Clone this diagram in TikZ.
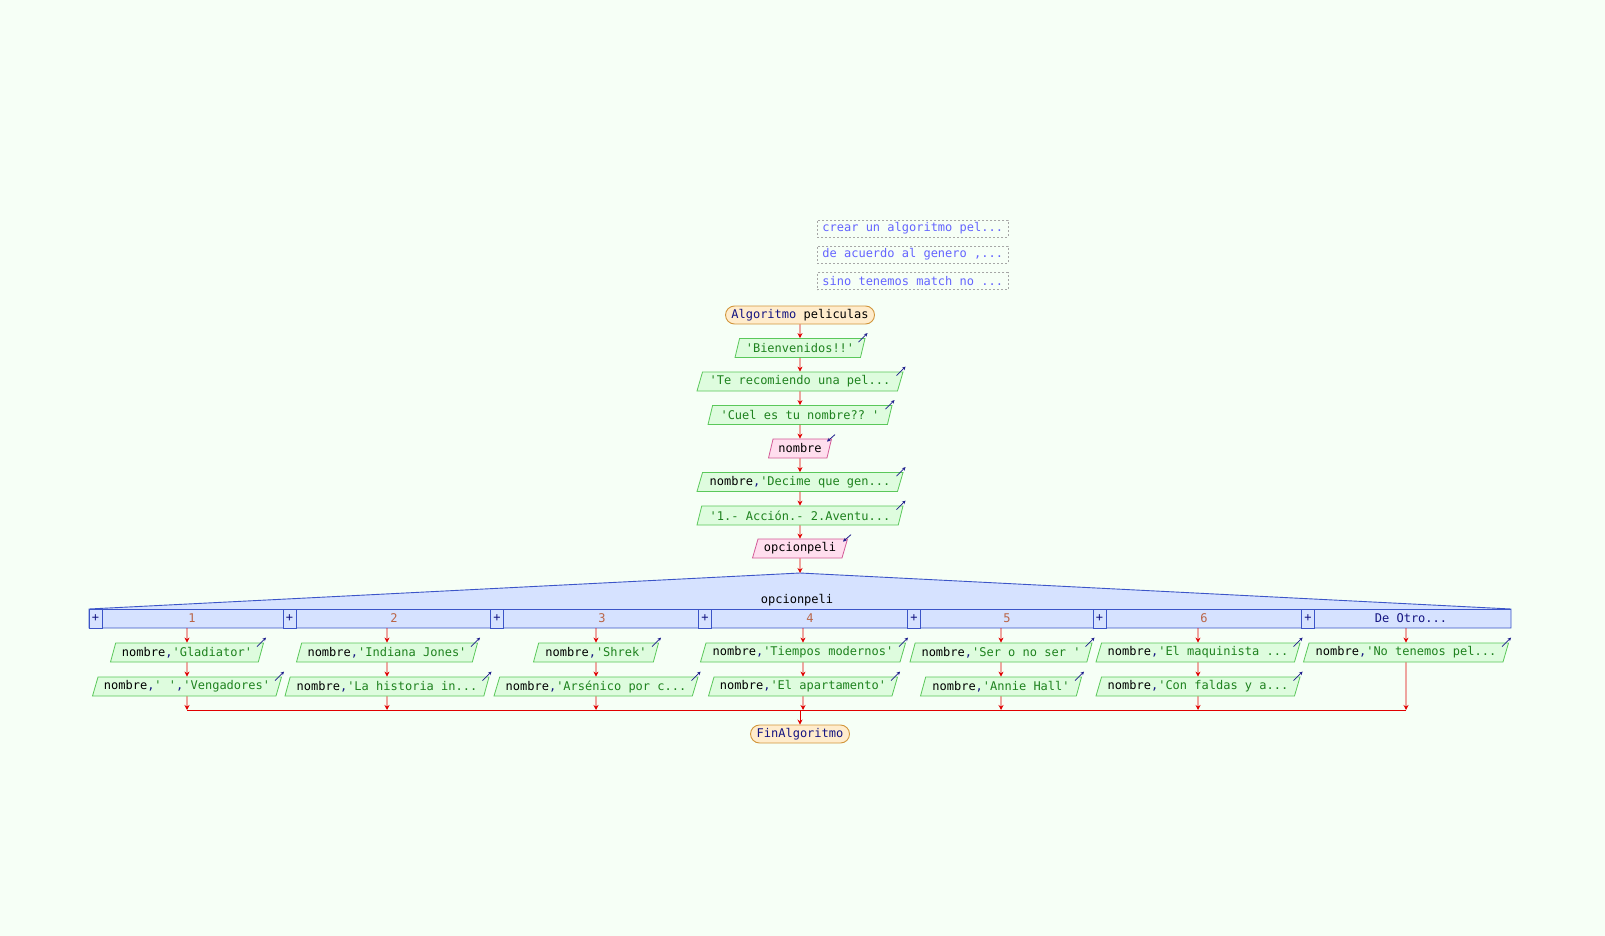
\documentclass[tikz,border=0pt]{standalone}
\usepackage{fontspec}
\setmonofont{DejaVu Sans Mono}
\usetikzlibrary{shapes.geometric,arrows.meta}
\definecolor{bgc}{RGB}{246,255,246}
\definecolor{outfill}{RGB}{222,252,222}
\definecolor{outline}{RGB}{90,200,90}
\definecolor{infill}{RGB}{255,222,238}
\definecolor{inline}{RGB}{210,90,150}
\definecolor{termfill}{RGB}{255,236,204}
\definecolor{termline}{RGB}{210,150,60}
\definecolor{swfill}{RGB}{214,226,255}
\definecolor{swline}{RGB}{60,85,200}
\definecolor{flowred}{RGB}{225,0,0}
\definecolor{kwblue}{RGB}{20,20,130}
\definecolor{strgreen}{RGB}{30,130,30}
\definecolor{cmblue}{RGB}{100,100,255}
\definecolor{casebrown}{RGB}{185,100,70}
\definecolor{iconblue}{RGB}{30,30,140}
\newcommand\Str[1]{\textcolor{strgreen}{#1}}
\newcommand\Cm{\textcolor{kwblue}{,}}
\newcommand\Kw[1]{\textcolor{kwblue}{#1}}
\newcommand\Lft[1]{\makebox[181pt][l]{#1}}
\begin{document}
\begin{tikzpicture}[x=1pt,y=-1pt,
  font=\ttfamily\fontsize{12}{14}\selectfont,
  outbox/.style={trapezium, trapezium left angle=68, trapezium right angle=112,
    trapezium stretches body, draw=outline, fill=outfill, line width=0.8pt,
    minimum height=19pt, inner xsep=2pt, inner ysep=1pt},
  inbox/.style={outbox, draw=inline, fill=infill},
  term/.style={rectangle, rounded corners=9pt, draw=termline, fill=termfill,
    line width=0.9pt, minimum height=18pt, inner sep=1pt},
  cmt/.style={rectangle, draw=gray!70, dash pattern=on 2pt off 2pt, line width=0.8pt,
    text=cmblue, minimum height=17pt, inner xsep=5pt, inner ysep=1pt,
    font=\ttfamily\fontsize{12}{14}\selectfont, anchor=west},
  plusbox/.style={rectangle, draw=swline, fill=swfill, line width=0.9pt,
    minimum width=13pt, minimum height=19pt, inner sep=0pt, text=kwblue},
  caselbl/.style={text=casebrown, inner sep=1pt},
  flow/.style={draw=flowred, line width=0.8pt, -{Stealth[length=5pt,width=5pt]}},
  line/.style={draw=flowred, line width=0.8pt},
  icon/.style={draw=iconblue, line width=0.8pt, -{Stealth[length=3.5pt,width=3.5pt]}}
]
\fill[bgc] (0,0) rectangle (1605,936);
\useasboundingbox (0,0) rectangle (1605,936);

% comments
\node[cmt] (c1) at (817,228.5) {\Lft{crear un algoritmo pel...}};
\node[cmt] (c2) at (817,254.5) {\Lft{de acuerdo al genero ,...}};
\node[cmt] (c3) at (817,281) {\Lft{sino tenemos match no ...}};

% main chain
\node[term, minimum width=149pt] (start) at (800,315) {\Kw{Algoritmo} peliculas};
\node[outbox, minimum width=130pt] (b1) at (800,348) {\Str{'Bienvenidos!!'}};
\node[outbox, minimum width=206pt] (b2) at (800,381.5) {\Str{'Te recomiendo una pel...}};
\node[outbox, minimum width=184pt] (b3) at (800,415) {\Str{'Cuel es tu nombre?? '}};
\node[inbox, minimum width=63pt] (i1) at (800,448.5) {nombre};
\node[outbox, minimum width=206pt] (b4) at (800,482) {nombre\Cm\Str{'Decime que gen...}};
\node[outbox, minimum width=206pt] (b5) at (800,515.5) {\Str{'1.- Acción.- 2.Aventu...}};
\node[inbox, minimum width=95pt] (i2) at (800,548.5) {opcionpeli};

\foreach \n in {b1,b2,b3,b4,b5}{
  \draw[icon] ([shift={(-7,4)}]\n.top right corner) -- ([shift={(2,-5)}]\n.top right corner);
}
\foreach \n in {i1,i2}{
  \draw[icon] ([shift={(3,-4)}]\n.top right corner) -- ([shift={(-5,3)}]\n.top right corner);
}

\draw[flow] (start.south) -- (b1.north);
\draw[flow] (b1.south) -- (b2.north);
\draw[flow] (b2.south) -- (b3.north);
\draw[flow] (b3.south) -- (i1.north);
\draw[flow] (i1.south) -- (b4.north);
\draw[flow] (b4.south) -- (b5.north);
\draw[flow] (b5.south) -- (i2.north);

% switch
\coordinate (apex) at (800,573);
\draw[fill=swfill, draw=swline, line width=0.9pt]
  (89,609) -- (apex) -- (1511,609) -- (1511,628) -- (89,628) -- cycle;
\draw[draw=swline, line width=0.9pt] (89,609) -- (1511,609);
\node[inner sep=1pt] (swlbl) at (797,600) {opcionpeli};
\draw[flow] (i2.south) -- (apex);

\node[plusbox] (p1) at (95.5,618.5) {+};
\node[plusbox] (p2) at (289.5,618.5) {+};
\node[plusbox] (p3) at (497,618.5) {+};
\node[plusbox] (p4) at (705,618.5) {+};
\node[plusbox] (p5) at (914,618.5) {+};
\node[plusbox] (p6) at (1099.5,618.5) {+};
\node[plusbox] (p7) at (1308,618.5) {+};

\node[caselbl] (k1) at (192,618.5) {1};
\node[caselbl] (k2) at (394,618.5) {2};
\node[caselbl] (k3) at (602,618.5) {3};
\node[caselbl] (k4) at (810,618.5) {4};
\node[caselbl] (k5) at (1007,618.5) {5};
\node[caselbl] (k6) at (1204,618.5) {6};
\node[caselbl, text=kwblue] (k7) at (1411,618.5) {De Otro...};

\foreach \i/\x in {1/187,2/387,3/596,4/803,5/1001,6/1198,7/1406}{
  \coordinate (t\i) at (\x,628);
  \coordinate (m\i) at (\x,710);
}

% row 1
\node[outbox, minimum width=153pt] (r1) at (187,652.5) {nombre\Cm\Str{'Gladiator'}};
\node[outbox, minimum width=181pt] (r2) at (387,652.5) {nombre\Cm\Str{'Indiana Jones'}};
\node[outbox, minimum width=125pt] (r3) at (596,652.5) {nombre\Cm\Str{'Shrek'}};
\node[outbox, minimum width=205pt] (r4) at (803,652.5) {nombre\Cm\Str{'Tiempos modernos'}};
\node[outbox, minimum width=182pt] (r5) at (1001,652.5) {nombre\Cm\Str{'Ser o no ser '}};
\node[outbox, minimum width=204pt] (r6) at (1198,652.5) {nombre\Cm\Str{'El maquinista ...}};
\node[outbox, minimum width=205pt] (r7) at (1406,652.5) {nombre\Cm\Str{'No tenemos pel...}};
% row 2
\node[outbox, minimum width=189pt] (s1) at (187,686.5) {nombre\Cm\Str{'\ '}\Cm\Str{'Vengadores'}};
\node[outbox, minimum width=204pt] (s2) at (387,686.5) {nombre\Cm\Str{'La historia in...}};
\node[outbox, minimum width=204pt] (s3) at (596,686.5) {nombre\Cm\Str{'Arsénico por c...}};
\node[outbox, minimum width=189pt] (s4) at (803,686.5) {nombre\Cm\Str{'El apartamento'}};
\node[outbox, minimum width=161pt] (s5) at (1001,686.5) {nombre\Cm\Str{'Annie Hall'}};
\node[outbox, minimum width=204pt] (s6) at (1198,686.5) {nombre\Cm\Str{'Con faldas y a...}};

\foreach \n in {r1,r2,r3,r4,r5,r6,r7,s1,s2,s3,s4,s5,s6}{
  \draw[icon] ([shift={(-7,4)}]\n.top right corner) -- ([shift={(2,-5)}]\n.top right corner);
}

\foreach \i in {1,...,7}{ \draw[flow] (t\i) -- (r\i.north); }
\foreach \i in {1,...,6}{
  \draw[flow] (r\i.south) -- (s\i.north);
  \draw[flow] (s\i.south) -- (m\i);
}
\draw[flow] (r7.south) -- (m7);
\draw[line] (m1) -- (m7);

\node[term, minimum width=99pt] (fin) at (800,734) {\Kw{FinAlgoritmo}};
\coordinate (mm) at (800,710);
\draw[flow] (mm) -- (fin.north);
\end{tikzpicture}
\end{document}
